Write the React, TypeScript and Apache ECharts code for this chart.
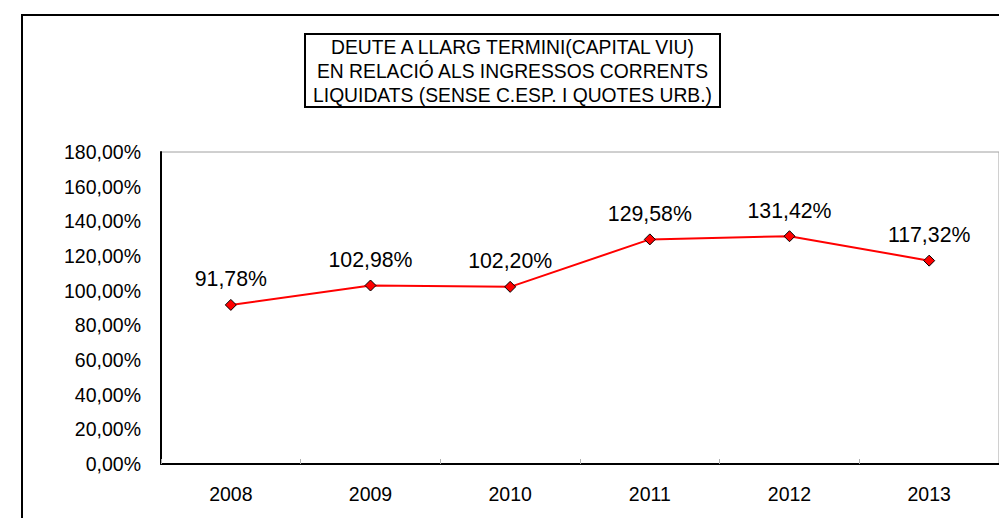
import React, { useEffect, useRef } from "react";
import * as echarts from "echarts";

const categories = ["2008", "2009", "2010", "2011", "2012", "2013"];
const values = [91.78, 102.98, 102.2, 129.58, 131.42, 117.32];
const titleLines = [
  "DEUTE A LLARG TERMINI(CAPITAL VIU)",
  "EN RELACIÓ ALS INGRESSOS CORRENTS",
  "LIQUIDATS (SENSE C.ESP. I QUOTES URB.)",
];

const FONT = '"Liberation Sans", Arial, Helvetica, sans-serif';
const fmt = (v: number) => v.toFixed(2).replace(".", ",") + "%";

export default function App() {
  const ref = useRef<HTMLDivElement>(null);
  useEffect(() => {
    if (!ref.current) return;
    const chart = echarts.init(ref.current, undefined, { renderer: "svg" });
    chart.setOption({
      animation: false,
      backgroundColor: "#ffffff",
      textStyle: { fontFamily: FONT },
      grid: {
        left: 161,
        top: 152,
        right: -2,
        bottom: 54,
        show: true,
        borderColor: "#a0a0a0",
        borderWidth: 1,
        backgroundColor: "transparent",
      },
      graphic: [
        {
          type: "rect",
          shape: { x: 22, y: 15, width: 1100, height: 700 },
          style: { fill: "none", stroke: "#000", lineWidth: 2 },
          silent: true,
        },
        {
          type: "rect",
          shape: { x: 305, y: 34, width: 415, height: 73 },
          style: { fill: "#fff", stroke: "#000", lineWidth: 2 },
          silent: true,
        },
        {
          type: "text",
          x: 512.5,
          y: 71,
          style: {
            text: titleLines.join("\n"),
            font: `19.3px ${FONT}`,
            fill: "#000",
            align: "center",
            verticalAlign: "middle",
            lineHeight: 24,
          },
          silent: true,
        },
      ],
      xAxis: {
        type: "category",
        data: categories,
        boundaryGap: true,
        axisLine: { show: true, lineStyle: { color: "#000", width: 2 } },
        axisTick: {
          show: true,
          inside: true,
          length: 5,
          lineStyle: { color: "#b0b0b0", width: 1 },
        },
        axisLabel: {
          color: "#000",
          fontSize: 19.5,
          fontFamily: FONT,
          margin: 20,
        },
        splitLine: { show: false },
      },
      yAxis: {
        type: "value",
        min: 0,
        max: 180,
        interval: 20,
        axisLine: { show: true, lineStyle: { color: "#000", width: 2 } },
        axisTick: { show: false },
        axisLabel: {
          color: "#000",
          fontSize: 19.5,
          fontFamily: FONT,
          margin: 20,
          formatter: (v: number) => fmt(v),
        },
        splitLine: { show: false },
      },
      series: [
        {
          type: "line",
          data: values,
          symbol: "diamond",
          symbolSize: 11,
          lineStyle: { color: "#ff0000", width: 2 },
          itemStyle: { color: "#ff0000", borderColor: "#000", borderWidth: 1 },
          label: {
            show: true,
            position: "top",
            distance: 9,
            color: "#000",
            fontSize: 21.3,
            fontFamily: FONT,
            formatter: (p: any) => fmt(p.value),
          },
        },
      ],
    });
    return () => chart.dispose();
  }, []);
  return (
    <div
      ref={ref}
      style={{ position: "fixed", left: 0, top: 0, width: 999, height: 518 }}
    />
  );
}
